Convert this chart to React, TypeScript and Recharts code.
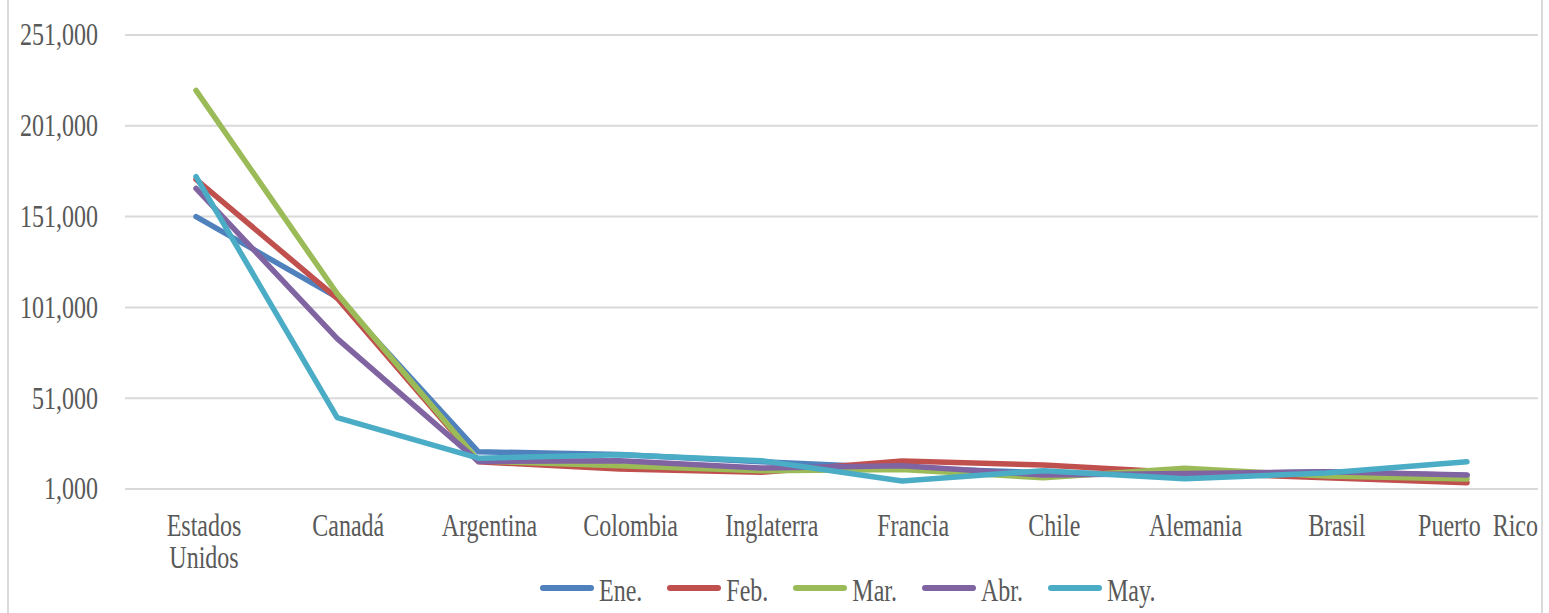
import { LineChart, Line, XAxis, YAxis, CartesianGrid, Legend } from "recharts"

const categories = [
  "Estados Unidos",
  "Canadá",
  "Argentina",
  "Colombia",
  "Inglaterra",
  "Francia",
  "Chile",
  "Alemania",
  "Brasil",
  "Puerto  Rico",
]

const ene = [151000, 106500, 21500, 20000, 16000, 12500, 10000, 9000, 10500, 8500]
const feb = [171500, 106000, 16000, 12000, 10200, 16400, 14200, 10000, 7200, 4500]
const mar = [220500, 108500, 16500, 13800, 11000, 11800, 7200, 12400, 8200, 6500]
const abr = [166500, 83800, 16200, 16500, 12500, 13800, 8700, 9500, 10500, 8700]
const may = [173000, 40300, 18000, 19800, 16600, 5400, 11100, 6600, 9800, 16000]

const yTicks = [1000, 51000, 101000, 151000, 201000, 251000]

const series = [
  { key: "ene", name: "Ene.", color: "#4F81BD", values: ene },
  { key: "feb", name: "Feb.", color: "#C0504D", values: feb },
  { key: "mar", name: "Mar.", color: "#9BBB59", values: mar },
  { key: "abr", name: "Abr.", color: "#8064A2", values: abr },
  { key: "may", name: "May.", color: "#4BACC6", values: may },
]

const data = categories.map((c, i) => {
  const row: { [key: string]: any } = { name: c }
  series.forEach((s) => {
    row[s.key] = s.values[i]
  })
  return row
})

const FONT = "'Liberation Serif', 'Times New Roman', serif"
const TEXT = "#595959"
const STRETCH = 1.28

function CategoryTick(props: any) {
  const { x, y, payload } = props
  const label: string = payload.value
  const lines = label === "Estados Unidos" ? ["Estados", "Unidos"] : [label]
  const shift = label === "Estados Unidos" ? 8 : 11
  return (
    <g transform={`translate(${x + shift},${y})`}>
      {lines.map((l, i) => (
        <text
          key={i}
          x={0}
          y={0}
          transform={`translate(0,${39 + i * 32}) scale(1,${STRETCH})`}
          textAnchor="middle"
          fill={TEXT}
          fontSize={24}
          fontFamily={FONT}
          style={{ whiteSpace: "pre" }}
        >
          {l}
        </text>
      ))}
    </g>
  )
}

function ValueTick(props: any) {
  const { x, y, payload } = props
  return (
    <g transform={`translate(${x},${y}) scale(1,${STRETCH})`}>
      <text x={0} y={0} dy="0.34em" textAnchor="end" fill={TEXT} fontSize={24} fontFamily={FONT}>
        {Number(payload.value).toLocaleString("en-US")}
      </text>
    </g>
  )
}

function LegendContent() {
  return (
    <div
      style={{
        height: 40,
        display: "flex",
        alignItems: "center",
        paddingLeft: 540,
        paddingBottom: 10,
        boxSizing: "border-box",
      }}
    >
      {series.map((s) => (
        <div key={s.key} style={{ display: "flex", alignItems: "center", marginRight: 25 }}>
          <svg width={54} height={10} style={{ display: "block" }}>
            <line x1={3} y1={5} x2={51} y2={5} stroke={s.color} strokeWidth={6} strokeLinecap="round" />
          </svg>
          <span
            style={{
              fontFamily: FONT,
              fontSize: 24,
              color: TEXT,
              marginLeft: 5,
              display: "inline-block",
              transform: `scaleY(${STRETCH})`,
              lineHeight: "24px",
              marginTop: 6,
            }}
          >
            {s.name}
          </span>
        </div>
      ))}
    </div>
  )
}

export default function App() {
  return (
    <div style={{ position: "absolute", left: 0, top: 0, width: 1549, height: 613, background: "#fff" }}>
      <div
        style={{
          position: "absolute",
          left: 7,
          top: 0,
          width: 1536,
          height: 613,
          borderLeft: "2px solid #d9d9d9",
          borderRight: "2px solid #d9d9d9",
          boxSizing: "border-box",
        }}
      />
      <div style={{ position: "absolute", left: 0, top: 0 }}>
        <LineChart width={1549} height={613} data={data} margin={{ top: 35, right: 11, left: 0, bottom: 0 }}>
          <CartesianGrid vertical={false} stroke="#d9d9d9" strokeWidth={2} />
          <XAxis
            dataKey="name"
            axisLine={false}
            tickLine={false}
            height={84}
            interval={0}
            padding={{ left: 71, right: 71 }}
            tick={<CategoryTick />}
          />
          <YAxis
            width={125}
            domain={[1000, 251000]}
            ticks={yTicks}
            axisLine={false}
            tickLine={false}
            tickMargin={21}
            tick={<ValueTick />}
          />
          <Legend verticalAlign="bottom" content={<LegendContent />} />
          {series.map((s) => (
            <Line
              key={s.key}
              type="linear"
              dataKey={s.key}
              name={s.name}
              stroke={s.color}
              strokeWidth={5.5}
              strokeLinecap="round"
              strokeLinejoin="round"
              dot={false}
              isAnimationActive={false}
            />
          ))}
        </LineChart>
      </div>
    </div>
  )
}
